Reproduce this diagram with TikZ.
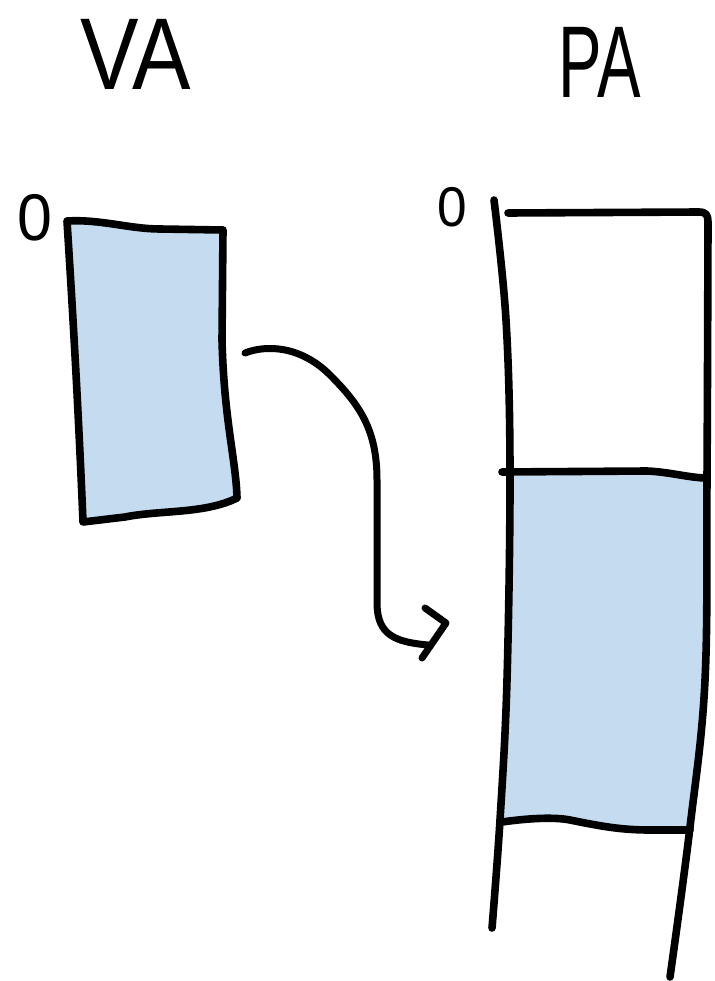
\documentclass[tikz,border=0pt]{standalone}
\usepackage{fontspec}
\setmainfont{Liberation Sans}
\definecolor{memblue}{RGB}{197,220,240}
\tikzset{
  ink/.style={draw=black, line width=7.6pt, line cap=round, line join=round},
  title/.style={anchor=base, inner sep=0pt, font=\fontsize{102}{102}\selectfont},
  zero/.style={anchor=base, inner sep=0pt},
}
\begin{document}
\begin{tikzpicture}[x=1pt,y=-1pt]
\useasboundingbox (0,0) rectangle (714,981);
\fill[white] (0,0) rectangle (714,981);

% titles
\node[title] (va) at (136,90) {\scalebox{0.86}[1]{VA}};
\node[title] (pa) at (600,98) {\scalebox{0.64}[1]{PA}};
\node[zero, font=\fontsize{66}{66}\selectfont] (vazero) at (35,241) {\scalebox{0.95}[1]{0}};
\node[zero, font=\fontsize{56}{56}\selectfont] (pazero) at (452,227) {\scalebox{0.95}[1]{0}};

% VA block
\path[ink, fill=memblue]
  (67,221) .. controls (100,219) and (130,229) .. (160,229) -- (223,230)
  -- (222,340) .. controls (224,420) and (236,460) .. (237,498)
  .. controls (205,514) and (160,510) .. (125,517) -- (83,522)
  .. controls (78,400) and (72,300) .. (67,221) -- cycle;

% PA mapped region fill
\fill[memblue] (510,476) -- (647,474) -- (705,480) -- (704,680) -- (690,826)
  -- (650,829) -- (570,820) -- (501,822) -- (507,680) -- cycle;

% PA column
\draw[ink] plot[smooth, tension=0.6] coordinates
  {(494,200) (506,320) (510,470) (507,680) (500,820) (492,928)};
\draw[ink] (508,213) -- (699,212) .. controls (706,212) and (708,215) .. (708,222)
  -- plot[smooth, tension=0.6] coordinates {(708,222) (707,477) (705,680) (690,827) (670,977)};
\draw[ink] (502,472) -- (647,471) .. controls (670,472) and (690,478) .. (707,478);
\draw[ink] (502,822) .. controls (530,818) and (555,817) .. (570,820)
  .. controls (600,826) and (620,830) .. (650,830) -- (690,830);

% mapping arrow
\coordinate (arrS) at (245,353);
\coordinate (arrE) at (428,645);
\coordinate (tipA) at (425,608);
\coordinate (tip) at (446,623);
\coordinate (tipB) at (422,658);
\draw[ink, line width=7pt] (arrS) .. controls (265,345) and (300,345) .. (330,375)
  .. controls (360,405) and (377,430) .. (377,480) -- (377,605)
  .. controls (378,635) and (395,642) .. (arrE);
\draw[ink, line width=7pt] (tipA) -- (tip) -- (tipB);
\end{tikzpicture}
\end{document}
